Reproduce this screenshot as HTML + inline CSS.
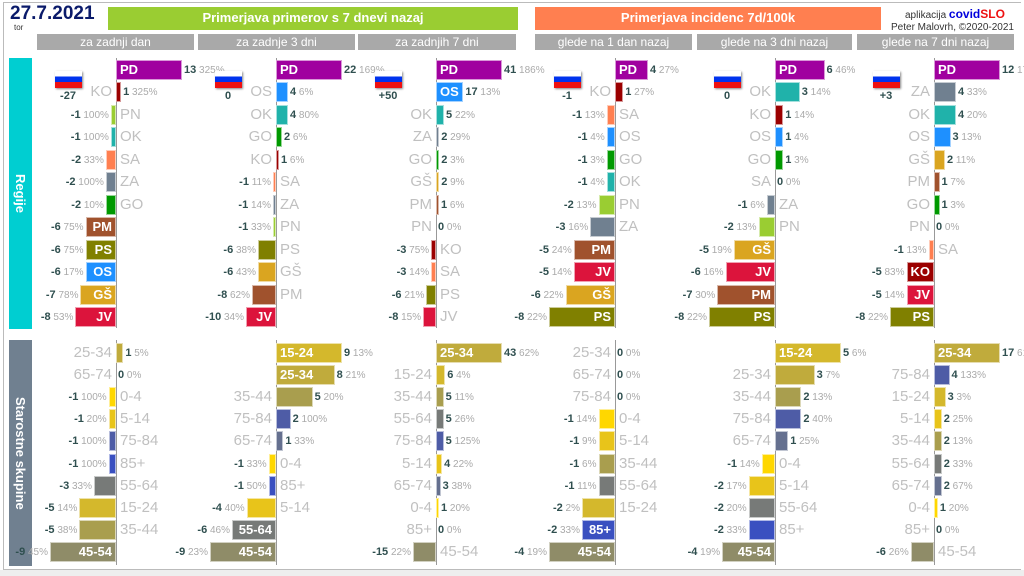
<!DOCTYPE html>
<html><head><meta charset="utf-8">
<style>
*{margin:0;padding:0;box-sizing:border-box}
body{width:1024px;height:576px;background:#fff;position:relative;overflow:hidden;font-family:"Liberation Sans",sans-serif}
.a{position:absolute;white-space:nowrap}
.hdr{position:absolute;color:#fff;font-weight:bold;font-size:13px;text-align:center;line-height:22px}
.sub{position:absolute;top:34px;height:16px;background:#a9a9a9;color:#fff;font-size:12px;text-align:center;line-height:16px}
.bar{position:absolute;height:20px;border:1px solid rgba(255,255,255,0.6)}
.in{position:absolute;color:#fff;font-weight:bold;line-height:20px;white-space:nowrap}
.out{position:absolute;color:#c0c0c0;line-height:20px;white-space:nowrap}
.val{position:absolute;line-height:20px;font-size:10px;color:#aaa;white-space:nowrap}
.val b{color:#2f4f4f;font-size:11px}
.ax{position:absolute;width:1px;background:#999}
.flag{position:absolute;width:27px;height:17px;box-shadow:1px 1px 2px #888;background:linear-gradient(#fff 0 33%,#0033ee 33% 66%,#ee1111 66%)}
.vt{position:absolute;writing-mode:vertical-rl;color:#fff;font-weight:bold;font-size:13px;display:flex;align-items:center;justify-content:center}
</style></head><body>
<div class="a" style="left:3px;top:2px;width:1018px;height:568px;border:1px solid #bbb;border-right:none"></div>
<div class="a" style="left:0;top:570px;width:1024px;height:6px;background:#eee"></div>
<div class="a" style="left:10px;top:3px;font-size:19px;font-weight:bold;color:#0a1a6a">27.7.2021</div>
<div class="a" style="left:14px;top:23px;font-size:8px;color:#333">tor</div>
<div class="hdr" style="left:108px;top:7px;width:410px;height:23px;background:#9acd32">Primerjava primerov s 7 dnevi nazaj</div>
<div class="hdr" style="left:535px;top:7px;width:346px;height:23px;background:#ff7f50">Primerjava incidenc 7d/100k</div>
<div class="a" style="left:905px;top:7px;font-size:10px;color:#333">aplikacija <span style="color:#0000dd;font-weight:bold;font-size:12px">covid</span><span style="color:#ee1111;font-weight:bold;font-size:12px">SLO</span></div>
<div class="a" style="left:891px;top:22px;font-size:10px;color:#333">Peter Malovrh, ©2020-2021</div>
<div class="sub" style="left:37px;width:157px">za zadnji dan</div>
<div class="sub" style="left:198px;width:157px">za zadnje 3 dni</div>
<div class="sub" style="left:358px;width:158px">za zadnjih 7 dni</div>
<div class="sub" style="left:535px;width:157px">glede na 1 dan nazaj</div>
<div class="sub" style="left:697px;width:155px">glede na 3 dni nazaj</div>
<div class="sub" style="left:857px;width:157px">glede na 7 dni nazaj</div>
<div class="vt" style="left:9px;top:58px;width:23px;height:271px;background:#00ced1">Regije</div>
<div class="vt" style="left:9px;top:340px;width:23px;height:226px;background:#708090">Starostne skupine</div>
<div id="c"></div>
<script>
const RC={PD:'#a0009f',KO:'#9b0000',PN:'#9acd32',OK:'#20b2aa',SA:'#ff7f50',ZA:'#708090',GO:'#009900',PM:'#a0522d',PS:'#808000',OS:'#1e90ff','GŠ':'#daa520',JV:'#dc143c'};
const AC={'0-4':'#ffd700','5-14':'#e8c41a','15-24':'#d4b82c','25-34':'#c0ab3c','35-44':'#a99e4e','45-54':'#8f8c68','55-64':'#777a78','65-74':'#65708f','75-84':'#4e5ca6','85+':'#3a50c0'};
const axes=[116,276,436,615,775,934];
const flags=['-27','0','+50','-1','0','+3'];
const R=[
[['PD',13,325],['KO',1,325],['PN',-1,100],['OK',-1,100],['SA',-2,33],['ZA',-2,100],['GO',-2,10],['PM',-6,75],['PS',-6,75],['OS',-6,17],['GŠ',-7,78],['JV',-8,53]],
[['PD',22,169],['OS',4,6],['OK',4,80],['GO',2,6],['KO',1,6],['SA',-1,11],['ZA',-1,14],['PN',-1,33],['PS',-6,38],['GŠ',-6,43],['PM',-8,62],['JV',-10,34]],
[['PD',41,186],['OS',17,13],['OK',5,22],['ZA',2,29],['GO',2,3],['GŠ',2,9],['PM',1,6],['PN',0,0],['KO',-3,75],['SA',-3,14],['PS',-6,21],['JV',-8,15]],
[['PD',4,27],['KO',1,27],['SA',-1,13],['OS',-1,4],['GO',-1,3],['OK',-1,4],['PN',-2,13],['ZA',-3,16],['PM',-5,24],['JV',-5,14],['GŠ',-6,22],['PS',-8,22]],
[['PD',6,46],['OK',3,14],['KO',1,14],['OS',1,4],['GO',1,3],['SA',0,0],['ZA',-1,6],['PN',-2,13],['GŠ',-5,19],['JV',-6,16],['PM',-7,30],['PS',-8,22]],
[['PD',12,17],['ZA',4,33],['OK',4,20],['OS',3,13],['GŠ',2,11],['PM',1,7],['GO',1,3],['PN',0,0],['SA',-1,13],['KO',-5,83],['JV',-5,14],['PS',-8,22]]];
const A=[
[['25-34',1,5],['65-74',0,0],['0-4',-1,100],['5-14',-1,20],['75-84',-1,100],['85+',-1,100],['55-64',-3,33],['15-24',-5,14],['35-44',-5,38],['45-54',-9,45]],
[['15-24',9,13],['25-34',8,21],['35-44',5,20],['75-84',2,100],['65-74',1,33],['0-4',-1,33],['85+',-1,50],['5-14',-4,40],['55-64',-6,46],['45-54',-9,23]],
[['25-34',43,62],['15-24',6,4],['35-44',5,11],['55-64',5,26],['75-84',5,125],['5-14',4,22],['65-74',3,38],['0-4',1,20],['85+',0,0],['45-54',-15,22]],
[['25-34',0,0],['65-74',0,0],['75-84',0,0],['0-4',-1,14],['5-14',-1,9],['35-44',-1,6],['55-64',-1,11],['15-24',-2,2],['85+',-2,33],['45-54',-4,19]],
[['15-24',5,6],['25-34',3,7],['35-44',2,13],['75-84',2,40],['65-74',1,25],['0-4',-1,14],['5-14',-2,17],['55-64',-2,20],['85+',-2,33],['45-54',-4,19]],
[['25-34',17,61],['75-84',4,133],['15-24',3,3],['5-14',2,25],['35-44',2,13],['55-64',2,33],['65-74',2,67],['0-4',1,20],['85+',0,0],['45-54',-6,26]]];
let h='';
function grp(data,cols,x0,y0,step,ytop,ybot,isAge){
 const mx=Math.max(...data.map(d=>Math.abs(d[1])));
 const k=66/mx;
 h+=`<div class="ax" style="left:${x0}px;top:${ytop}px;height:${ybot-ytop}px"></div>`;
 data.forEach((d,i)=>{
  const [lab,v,p]=d;const w=Math.max(Math.abs(v)*k,v==0?0:3);
  const y=Math.round(y0+i*step-10);
  const tw=isAge?lab.length*7.2:21;
  const ok=w>=tw+6;
  if(v>=0){
   if(w>0)h+=`<div class="bar" style="left:${x0}px;top:${y}px;width:${w}px;background:${cols[lab]}"></div>`;
   if(ok) h+=`<div class="in" style="left:${x0+4}px;top:${y}px;font-size:13px">${lab}</div>`;
   else h+=`<div class="out" style="right:${1024-x0+4}px;top:${y}px;font-size:15px">${lab}</div>`;
   h+=`<div class="val" style="left:${x0+w+2}px;top:${y}px"><b>${v}</b> ${p}%</div>`;
  }else{
   h+=`<div class="bar" style="left:${x0-w}px;top:${y}px;width:${w}px;background:${cols[lab]}"></div>`;
   if(ok) h+=`<div class="in" style="right:${1024-x0+4}px;top:${y}px;font-size:13px">${lab}</div>`;
   else h+=`<div class="out" style="left:${x0+4}px;top:${y}px;font-size:15px">${lab}</div>`;
   h+=`<div class="val" style="right:${1024-x0+w+2}px;top:${y}px"><b>${v}</b> ${p}%</div>`;
  }
 });
}
axes.forEach((x,i)=>{
 grp(R[i],RC,x,70,22.45,58,328,false);
 grp(A[i],AC,x,353,22.1,340,565,true);
 h+=`<div class="flag" style="left:${x-61}px;top:71px"></div>`;
 h+=`<div class="a" style="left:${x-68}px;width:40px;text-align:center;top:90px;font-size:11px;color:#2f4f4f;font-weight:bold">${flags[i]}</div>`;
});
document.getElementById('c').innerHTML=h;
</script>
</body></html>
